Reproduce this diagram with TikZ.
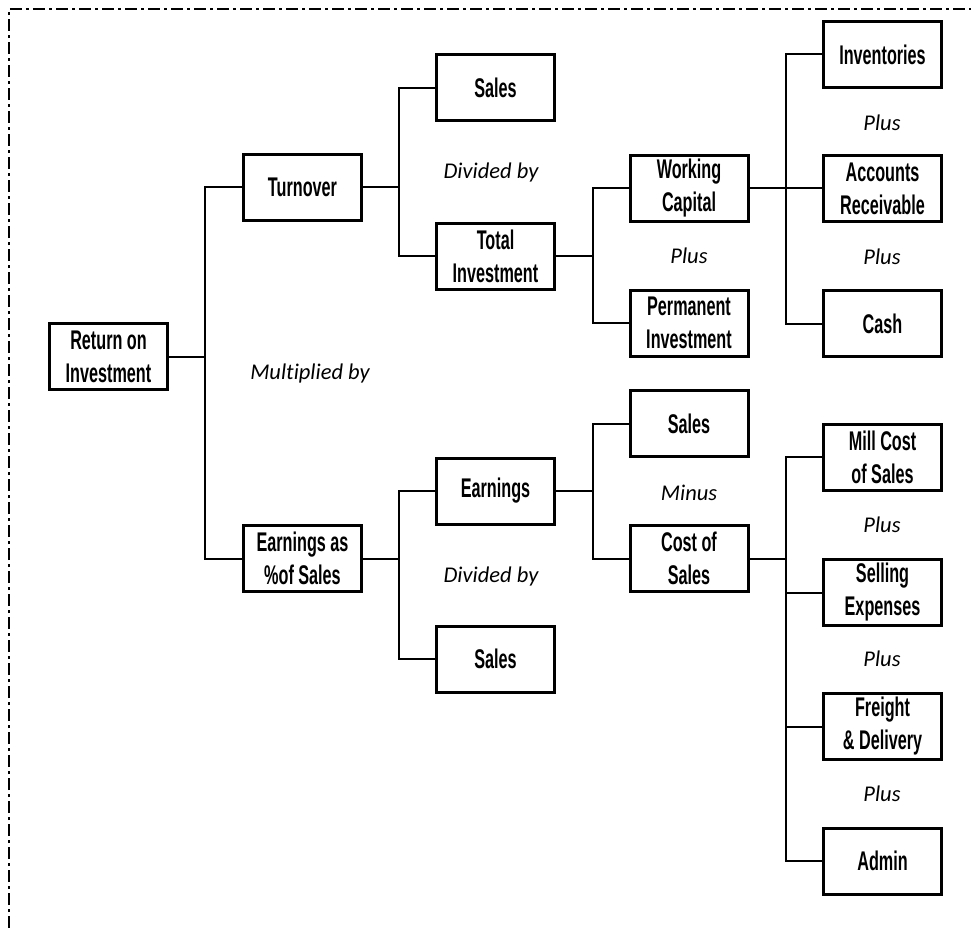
\documentclass[tikz,border=0pt]{standalone}
\usepackage{fontspec}
\newfontfamily\boxfont{Liberation Sans Bold}[FakeStretch=0.6]
\newfontfamily\lblfont{Carlito}[Ligatures=NoCommon]
\begin{document}
\begin{tikzpicture}[x=1pt,y=-1pt,
  bx/.style={draw, line width=3pt, minimum width=118pt, minimum height=66pt, inner sep=0pt,
    align=center, font=\boxfont\fontsize{27}{33}\selectfont},
  lbl/.style={font=\lblfont\itshape\fontsize{22.5}{26}\selectfont},
  con/.style={line width=2pt},
  frame/.style={line width=1.4pt, dash pattern=on 12pt off 4pt on 3pt off 4pt}]
\useasboundingbox (0,0) rectangle (971,928);
\draw[frame] (9,928) -- (9,9) -- (971,9);

\node[bx] (roi) at (108.5,356.5) {Return on\\Investment};
\node[bx] (turn) at (302.5,187.5) {Turnover};
\node[bx] (es) at (302.5,558.5) {Earnings as\\\%of Sales};
\node[bx] (sales1) at (495.5,88) {Sales};
\node[bx] (totinv) at (495.5,256) {Total\\Investment};
\node[bx] (earn) at (495.5,491) {Earnings};
\node[bx] (sales3) at (495.5,659) {Sales};
\node[bx] (wc) at (689,188.5) {Working\\Capital};
\node[bx] (pi) at (689,323) {Permanent\\Investment};
\node[bx] (sales2) at (689,423.5) {Sales};
\node[bx] (cos) at (689,558.5) {Cost of\\Sales};
\node[bx] (inv) at (882.5,54.5) {Inventories};
\node[bx] (ar) at (882.5,188.5) {Accounts\\Receivable};
\node[bx] (cash) at (882.5,323.5) {Cash};
\node[bx] (mill) at (882.5,457) {Mill Cost\\of Sales};
\node[bx] (sell) at (882.5,592.5) {Selling\\Expenses};
\node[bx] (frt) at (882.5,726.5) {Freight\\\& Delivery};
\node[bx] (adm) at (882.5,861) {Admin};

\node[lbl] (l1) at (310,373) {Multiplied by};
\node[lbl] (l2) at (491,173) {Divided by};
\node[lbl] (l3) at (491,576) {Divided by};
\node[lbl] (l4) at (689,256) {Plus};
\node[lbl] (l5) at (689,493) {Minus};
\node[lbl] (l6) at (882,123) {Plus};
\node[lbl] (l7) at (882,257) {Plus};
\node[lbl] (l8) at (882,525) {Plus};
\node[lbl] (l9) at (882,659) {Plus};
\node[lbl] (l10) at (882,794) {Plus};

\coordinate (j1) at (205,356.5);
\coordinate (j2) at (399,187.5);
\coordinate (j3) at (593,256);
\coordinate (j4) at (786,188.5);
\coordinate (j5) at (399,558.5);
\coordinate (j6) at (593,491);
\coordinate (j7) at (786,558.5);

\draw[con] (roi.east) -- (j1);
\draw[con] (turn.west) -| (j1);
\draw[con] (es.west) -| (j1);
\draw[con] (turn.east) -- (j2);
\draw[con] (sales1.west) -| (j2);
\draw[con] (totinv.west) -| (j2);
\draw[con] (totinv.east) -- (j3);
\draw[con] (wc.west) -| (j3);
\draw[con] (pi.west) -| (j3);
\draw[con] (wc.east) -- (j4);
\draw[con] (inv.west) -| (j4);
\draw[con] (ar.west) -- (j4);
\draw[con] (cash.west) -| (j4);
\draw[con] (es.east) -- (j5);
\draw[con] (earn.west) -| (j5);
\draw[con] (sales3.west) -| (j5);
\draw[con] (earn.east) -- (j6);
\draw[con] (sales2.west) -| (j6);
\draw[con] (cos.west) -| (j6);
\draw[con] (cos.east) -- (j7);
\draw[con] (mill.west) -| (j7);
\draw[con] (sell.west) -| (j7);
\draw[con] (frt.west) -| (j7);
\draw[con] (adm.west) -| (j7);
\end{tikzpicture}
\end{document}
